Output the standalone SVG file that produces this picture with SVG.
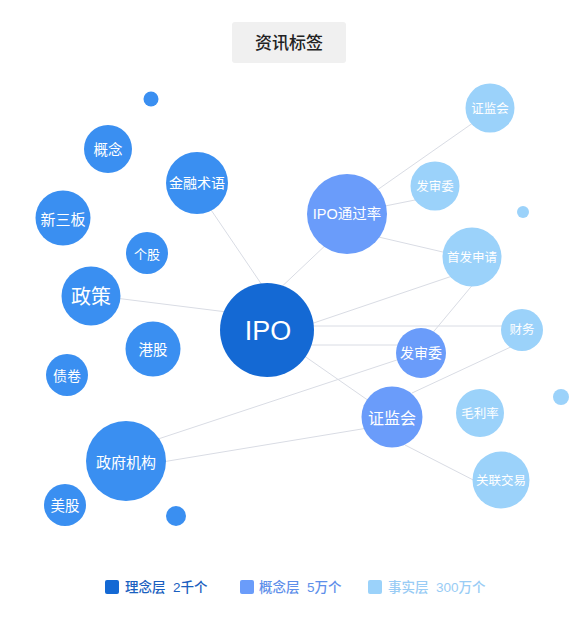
<svg xmlns="http://www.w3.org/2000/svg" width="575" height="631" viewBox="0 0 575 631">
<style>
text{font-family:"Liberation Sans","Noto Sans CJK SC",sans-serif;text-anchor:middle;dominant-baseline:central;fill:#fff}
.l1{fill:#1469d4}
.l0{fill:#3a8ff1}
.l2{fill:#6a9cfa}
.l3{fill:#9bd2fa}
.edge{stroke:#d9dce4;stroke-width:1;fill:none}
.leg{text-anchor:start;dominant-baseline:auto;font-size:13.5px;font-weight:500;white-space:pre}
</style>
<rect width="575" height="631" fill="#fff"/>
<g id="title">
<rect x="232" y="22" width="114" height="41" rx="3" fill="#f0f0f0"/>
<text x="289" y="43" font-size="17" font-weight="500" style="fill:#222">资讯标签</text>
</g>
<g id="connectors">
<line class="edge" x1="91" y1="295" x2="267" y2="317"/>
<line class="edge" x1="205" y1="201" x2="262" y2="285"/>
<line class="edge" x1="275" y1="293" x2="347" y2="225"/>
<line class="edge" x1="290" y1="331" x2="470" y2="270"/>
<line class="edge" x1="300" y1="326" x2="522" y2="326"/>
<line class="edge" x1="300" y1="345" x2="421" y2="345"/>
<line class="edge" x1="267" y1="330" x2="392" y2="417"/>
<line class="edge" x1="370" y1="195" x2="480" y2="118"/>
<line class="edge" x1="380" y1="207" x2="425" y2="198"/>
<line class="edge" x1="370" y1="235" x2="460" y2="256"/>
<line class="edge" x1="475" y1="282" x2="430" y2="336"/>
<line class="edge" x1="140" y1="445" x2="421" y2="352"/>
<line class="edge" x1="150" y1="464" x2="392" y2="424"/>
<line class="edge" x1="412" y1="393" x2="515" y2="345"/>
<line class="edge" x1="405" y1="445" x2="485" y2="486"/>
</g>
<g id="n-ipo"><circle class="l1" cx="267" cy="330" r="47"/><text x="268" y="331" font-size="27">IPO</text></g>
<g id="n-ipo-rate"><circle class="l2" cx="347" cy="214" r="40"/><text x="347" y="214" font-size="14.5">IPO通过率</text></g>
<g id="n-csrc-top"><circle class="l3" cx="490" cy="108" r="24.5"/><text x="490" y="109" font-size="12.5">证监会</text></g>
<g id="n-fsw-top"><circle class="l3" cx="435" cy="186" r="24.5"/><text x="435" y="187" font-size="12.5">发审委</text></g>
<g id="n-ipo-apply"><circle class="l3" cx="472" cy="257" r="29.5"/><text x="472" y="258" font-size="12.5">首发申请</text></g>
<g id="n-finance"><circle class="l3" cx="522" cy="330" r="21"/><text x="522" y="330" font-size="12.5">财务</text></g>
<g id="n-fsw-mid"><circle class="l2" cx="421" cy="353" r="25"/><text x="421" y="353" font-size="14">发审委</text></g>
<g id="n-csrc-mid"><circle class="l2" cx="392" cy="417" r="30.5"/><text x="392" y="418" font-size="16">证监会</text></g>
<g id="n-margin"><circle class="l3" cx="480" cy="413" r="24"/><text x="480" y="414" font-size="12.5">毛利率</text></g>
<g id="n-related"><circle class="l3" cx="501" cy="480" r="28.5"/><text x="501" y="481" font-size="12.5">关联交易</text></g>
<g id="n-dot-r1"><circle class="l3" cx="523" cy="212" r="6"/></g>
<g id="n-dot-r2"><circle class="l3" cx="561" cy="397" r="8"/></g>
<g id="n-dot-l1"><circle class="l0" cx="151" cy="99" r="7.5"/></g>
<g id="n-concept"><circle class="l0" cx="108" cy="149" r="24"/><text x="108" y="150" font-size="14.5">概念</text></g>
<g id="n-finterm"><circle class="l0" cx="197" cy="183" r="31"/><text x="197" y="183" font-size="14">金融术语</text></g>
<g id="n-xsb"><circle class="l0" cx="63" cy="218" r="27.5"/><text x="63" y="219" font-size="15">新三板</text></g>
<g id="n-stock"><circle class="l0" cx="147" cy="253" r="21"/><text x="147" y="254" font-size="13">个股</text></g>
<g id="n-policy"><circle class="l0" cx="91" cy="296" r="29.5"/><text x="91" y="297" font-size="20">政策</text></g>
<g id="n-hk"><circle class="l0" cx="153" cy="349" r="27.5"/><text x="153" y="350" font-size="14.5">港股</text></g>
<g id="n-bond"><circle class="l0" cx="67" cy="375" r="21"/><text x="67" y="376" font-size="14">债卷</text></g>
<g id="n-gov"><circle class="l0" cx="126" cy="461" r="40"/><text x="126" y="462" font-size="15">政府机构</text></g>
<g id="n-us"><circle class="l0" cx="65" cy="505" r="21"/><text x="65" y="506" font-size="14.5">美股</text></g>
<g id="n-dot-l2"><circle class="l0" cx="176" cy="516" r="10"/></g>
<g id="legend">
<rect x="105" y="580" width="14" height="14" rx="2" fill="#1469d4"/>
<text class="leg" x="125" y="592" style="fill:#1a5fc0">理念层  2千个</text>
<rect x="240" y="580" width="14" height="14" rx="2" fill="#6a9cfa"/>
<text class="leg" x="259" y="592" style="fill:#5e8fea">概念层  5万个</text>
<rect x="368" y="580" width="14" height="14" rx="2" fill="#9bd2fa"/>
<text class="leg" x="388" y="592" style="fill:#99ccf5">事实层  300万个</text>
</g>
</svg>
